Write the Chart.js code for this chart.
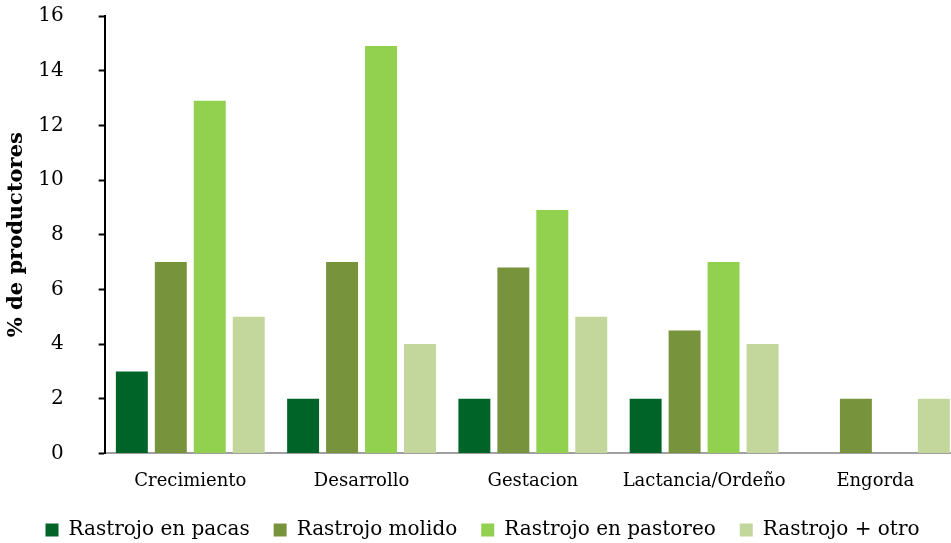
<!DOCTYPE html>
<html>
<head>
<meta charset="utf-8">
<script src="https://cdn.jsdelivr.net/npm/chart.js@4"></script>
<style>
  html, body { margin: 0; padding: 0; background: #fff; overflow: hidden; }
  #grafica { display: block; }
</style>
</head>
<body>
<!-- el eje x sigue unos píxeles más allá del borde derecho -->
<canvas id="grafica" width="961" height="543"></canvas>
<script>
// Etapas productivas
const etapas = ['Crecimiento', 'Desarrollo', 'Gestacion', 'Lactancia/Ordeño', 'Engorda'];

// % de productores por tipo de uso del rastrojo
const pacas    = [3.0, 2.0, 2.0, 2.0, 0];
const molido   = [7.0, 7.0, 6.8, 4.5, 2.0];
const pastoreo = [12.9, 14.9, 8.9, 7.0, 0];
const otro     = [5.0, 4.0, 5.0, 4.0, 2.0];

// marcas del eje y
const marcasY = { min: 0, max: 16, paso: 2 };

const fuente = "'DejaVu Serif', 'Liberation Serif', serif";
const separacionY = 35;

new Chart(document.getElementById('grafica'), {
  type: 'bar',
  data: {
    labels: etapas,
    datasets: [
      { label: 'Rastrojo en pacas', data: pacas, backgroundColor: '#006428' },
      { label: 'Rastrojo molido', data: molido, backgroundColor: '#77933C' },
      { label: 'Rastrojo en pastoreo', data: pastoreo, backgroundColor: '#92D050' },
      { label: 'Rastrojo + otro', data: otro, backgroundColor: '#C3D69B' }
    ]
  },
  options: {
    responsive: false,
    animation: false,
    layout: { padding: { left: 4, right: 0, top: 16, bottom: -7 } },
    datasets: {
      bar: { categoryPercentage: 0.91, barPercentage: 0.82 }
    },
    plugins: {
      tooltip: { enabled: false },
      legend: {
        position: 'bottom',
        labels: {
          font: { family: fuente, size: 20 },
          color: '#000',
          boxWidth: 13,
          boxHeight: 13,
          padding: 24
        }
      }
    },
    scales: {
      x: {
        grid: { display: false, drawTicks: false },
        border: { color: '#A0A0A0', width: 2 },
        ticks: {
          font: { family: fuente, size: 18 },
          color: '#000',
          padding: 17,
          maxRotation: 0,
          minRotation: 0,
          autoSkip: false
        },
        afterFit: (eje) => {
          eje.height -= 13;
          eje.paddingLeft = 0;
          eje.paddingRight = 0;
        }
      },
      y: {
        min: marcasY.min,
        max: marcasY.max,
        grid: { drawOnChartArea: false, tickLength: 6, tickColor: '#000', tickWidth: 2 },
        border: { color: '#000', width: 2 },
        ticks: {
          stepSize: marcasY.paso,
          font: { family: fuente, size: 20 },
          color: '#000',
          padding: separacionY
        },
        // el margen de las etiquetas no debe empujar el área del gráfico
        afterFit: (eje) => {
          eje.paddingTop = 0;
          eje.paddingBottom = 0;
          eje.width -= separacionY;
        },
        title: {
          display: true,
          text: '% de productores',
          font: { family: fuente, size: 21, weight: 'bold' },
          color: '#000',
          padding: { top: 0, bottom: 9 }
        }
      }
    }
  }
});
</script>
</body>
</html>
